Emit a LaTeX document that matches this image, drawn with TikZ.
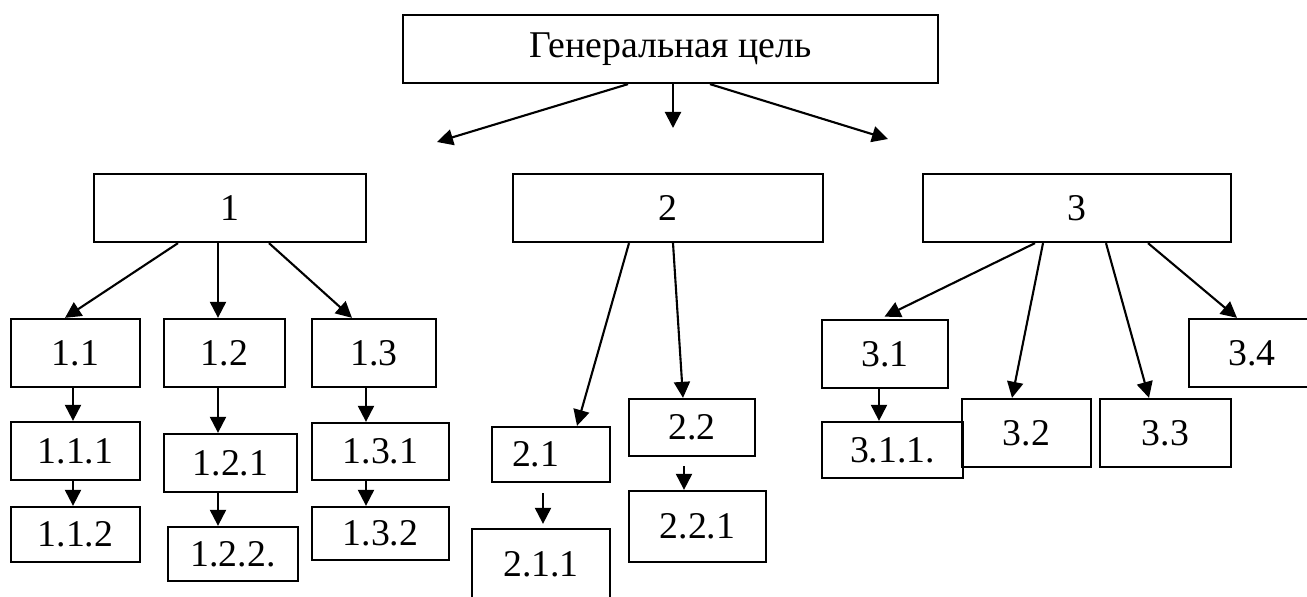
\documentclass[tikz,border=0pt]{standalone}
\usepackage{fontspec}
\setmainfont{Liberation Serif}
\usetikzlibrary{arrows.meta}

\begin{document}
\begin{tikzpicture}[x=0.02cm,y=-0.02cm,
    box/.style 2 args={draw, line width=1.3pt, inner sep=0pt,
        minimum width=#1*0.02cm, minimum height=#2*0.02cm,
        font=\fontsize{21.5}{25}\selectfont},
    arr/.style={line width=1.2pt, -{Triangle[length=0.32cm,width=0.32cm]}}]
    \useasboundingbox (0,0) rectangle (1307,597);
    \clip (0,0) rectangle (1307,597);

    % top
    \node[box={535}{68}] (gen) at (670.5,49) {Генеральная цель};
    \coordinate (g1) at (437,142);
    \coordinate (g2) at (673,128);
    \coordinate (g3) at (888,139);
    \draw[arr] (gen.south -| 628,0) -- (g1);
    \draw[arr] (gen.south -| 673,0) -- (g2);
    \draw[arr] (gen.south -| 710,0) -- (g3);

    % level 1
    \node[box={272}{68}] (n1) at (230,208) {1};
    \node[box={310}{68}] (n2) at (668,208) {2};
    \node[box={308}{68}] (n3) at (1077,208) {3};

    % branch 1
    \node[box={129}{68}] (n11) at (75.5,353) {1.1};
    \node[box={121}{68}] (n12) at (224.5,353) {1.2};
    \node[box={124}{68}] (n13) at (374,353) {1.3};
    \node[box={129}{58}] (n111) at (75.5,451) {1.1.1};
    \node[box={133}{58}] (n121) at (230.5,463) {1.2.1};
    \node[box={137}{57}] (n131) at (380.5,451.5) {1.3.1};
    \node[box={129}{55}] (n112) at (75.5,534.5) {1.1.2};
    \node[box={130}{54}] (n122) at (233,554) {1.2.2.};
    \node[box={137}{53}] (n132) at (380.5,533.5) {1.3.2};
    \draw[arr] (n1.south -| 178,0) -- (n11.north -| 65,0);
    \draw[arr] (n1.south -| 218,0) -- (n12.north -| 218,0);
    \draw[arr] (n1.south -| 269,0) -- (n13.north -| 352,0);
    \foreach \a/\b/\x in {n11/n111/73, n111/n112/73, n12/n121/218,
        n121/n122/218, n13/n131/366, n131/n132/366} {
        \draw[arr] (\a.south -| \x,0) -- (\b.north -| \x,0);
    }

    % branch 2
    \node[box={118}{55}, text width=78*0.02cm, align=left,
        inner xsep=20*0.02cm] (n21) at (551,454.5) {2.1};
    \node[box={138}{70}] (n211) at (541,564) {2.1.1};
    \node[box={126}{57}] (n22) at (692,427.5) {2.2};
    \node[box={137}{71}] (n221) at (697.5,526.5) {2.2.1};
    \draw[arr] (n2.south -| 629,0) -- (n21.north -| 577,0);
    \draw[arr] (n2.south -| 673,0) -- (n22.north -| 683,0);
    \draw[arr, shorten <=0.2cm, shorten >=0.08cm]
        (n21.south -| 543,0) -- (n211.north -| 543,0);
    \draw[arr, shorten <=0.18cm]
        (n22.south -| 684,0) -- (n221.north -| 684,0);

    % branch 3
    \node[box={126}{68}] (n31) at (885,354) {3.1};
    \node[box={141}{56}] (n311) at (892.5,450) {3.1.1.};
    \node[box={129}{68}] (n32) at (1026.5,433) {3.2};
    \node[box={131}{68}] (n33) at (1165.5,433) {3.3};
    \node[box={126}{68}] (n34) at (1252,353) {3.4};
    \draw[arr, shorten >=0.1cm] (n3.south -| 1035,0) -- (n31.north -| 880,0);
    \draw[arr] (n3.south -| 1043,0) -- (n32.north -| 1012,0);
    \draw[arr] (n3.south -| 1106,0) -- (n33.north -| 1149,0);
    \draw[arr] (n3.south -| 1148,0) -- (n34.north -| 1237,0);
    \draw[arr] (n31.south -| 879,0) -- (n311.north -| 879,0);
\end{tikzpicture}
\end{document}
